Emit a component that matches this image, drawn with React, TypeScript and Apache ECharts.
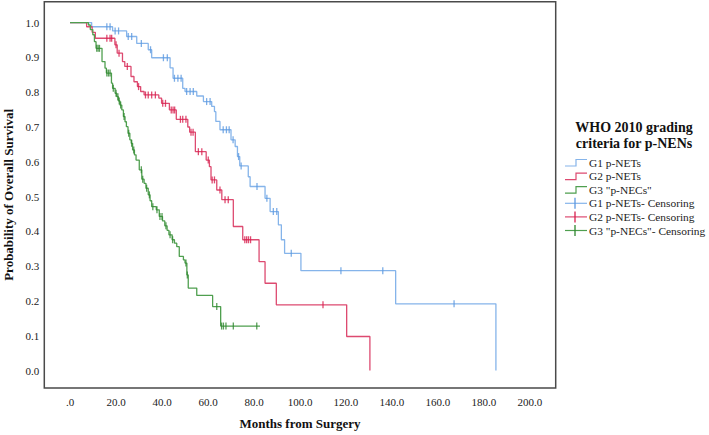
import React, { useEffect, useRef } from "react";
import * as echarts from "echarts";

type Pt = [number, number];

const X_TICKS = [0, 20, 40, 60, 80, 100, 120, 140, 160, 180, 200];
const Y_TICKS = [0, 0.1, 0.2, 0.3, 0.4, 0.5, 0.6, 0.7, 0.8, 0.9, 1.0];

const GROUP_NAMES = ["G1 p-NETs", "G2 p-NETs", 'G3 "p-NECs"'];
const CENSOR_NAMES = ["G1 p-NETs- Censoring", "G2 p-NETs- Censoring", 'G3 "p-NECs"- Censoring'];
const LEGEND_TITLE = ["WHO 2010 grading", "criteria for p-NENs"];

// Kaplan-Meier step points [month, survival]
const G1_STEPS: Pt[] = [
  [0, 1], [9.4, 0.988], [18.5, 0.976], [24.6, 0.96], [29, 0.94], [34, 0.922], [35.5, 0.899],
  [43.5, 0.87], [44.8, 0.84], [49, 0.811], [50, 0.802], [55.1, 0.789], [58, 0.773], [61.6, 0.759],
  [62.8, 0.744], [63.4, 0.716], [65.2, 0.692], [70, 0.663], [71.8, 0.644], [72.8, 0.615],
  [73.8, 0.588], [77.5, 0.557], [78.3, 0.529], [84.8, 0.495], [87, 0.457], [90.6, 0.419],
  [91.9, 0.376], [93.3, 0.337], [100.4, 0.287], [141.6, 0.192], [185.2, 0],
];
const G1_CENSOR: Pt[] = [
  [16, 0.988], [17.4, 0.988], [19.6, 0.976], [21.1, 0.976], [25.3, 0.96], [26.8, 0.96], [31, 0.94],
  [35, 0.922], [40.6, 0.899], [42.3, 0.899], [45.4, 0.84], [46.9, 0.84], [48.3, 0.84], [50.7, 0.802],
  [52.2, 0.802], [53.6, 0.802], [59.4, 0.773], [60.9, 0.773], [66.6, 0.692], [68, 0.692],
  [69.2, 0.692], [70.9, 0.663], [73.3, 0.615], [74.4, 0.588], [81.3, 0.529], [85.6, 0.495],
  [88.4, 0.457], [89.9, 0.457], [96.2, 0.337], [117.8, 0.287], [136, 0.287], [167, 0.192],
];

const G2_STEPS: Pt[] = [
  [0, 1], [7.2, 0.988], [9.6, 0.972], [11, 0.955], [19.5, 0.936], [20.5, 0.912], [22.8, 0.888],
  [23.8, 0.874], [26.5, 0.845], [27.8, 0.83], [29.3, 0.816], [30.7, 0.802], [32.2, 0.792],
  [38.6, 0.783], [39.8, 0.768], [43.2, 0.749], [46.2, 0.722], [51.2, 0.7], [52, 0.685],
  [54.5, 0.629], [59.2, 0.605], [60.6, 0.586], [61.3, 0.548], [63.8, 0.519], [66, 0.491],
  [71, 0.414], [75.1, 0.376], [82.2, 0.313], [84.8, 0.251], [89.7, 0.189], [120.3, 0.098],
  [130.4, 0],
];
const G2_CENSOR: Pt[] = [
  [16, 0.955], [17.4, 0.955], [18.1, 0.955], [20, 0.936], [21.3, 0.912], [24.9, 0.874],
  [29.8, 0.816], [32.8, 0.792], [34, 0.792], [35.5, 0.792], [37.1, 0.792], [40.3, 0.768],
  [41.5, 0.768], [44, 0.749], [44.8, 0.749], [45.5, 0.749], [48, 0.722], [49, 0.722],
  [50.4, 0.722], [52.6, 0.685], [53.5, 0.685], [55.8, 0.629], [57.3, 0.629], [60.1, 0.605],
  [61.8, 0.548], [62.8, 0.548], [65.2, 0.519], [67.4, 0.491], [68.8, 0.491], [76, 0.376],
  [76.8, 0.376], [77.6, 0.376], [78.5, 0.376], [110, 0.189],
];

const G3_STEPS: Pt[] = [
  [0, 1], [8, 0.993], [8.8, 0.98], [9.9, 0.965], [10.6, 0.945], [11.3, 0.926], [13.9, 0.888],
  [15.2, 0.869], [15.8, 0.855], [18, 0.826], [18.5, 0.811], [19.6, 0.797], [20.3, 0.787],
  [21, 0.775], [21.7, 0.763], [22.5, 0.749], [23.2, 0.73], [23.9, 0.715], [24.5, 0.701],
  [25.2, 0.682], [26, 0.663], [26.6, 0.653], [27.2, 0.634], [28, 0.62], [28.7, 0.605],
  [30.1, 0.577], [31.2, 0.55], [32.2, 0.538], [33, 0.524], [34, 0.505], [34.8, 0.488],
  [35.5, 0.471], [37.5, 0.462], [38.8, 0.443], [40.2, 0.43], [41.2, 0.416], [42.2, 0.403],
  [43, 0.39], [44.4, 0.376], [45.4, 0.366], [46.4, 0.356], [47.5, 0.328], [49.3, 0.318],
  [50, 0.309], [50.8, 0.275], [51.4, 0.237], [55.1, 0.216], [62, 0.184], [65.5, 0.128],
  [82.6, 0.128],
];
const G3_CENSOR: Pt[] = [
  [11.6, 0.926], [12.2, 0.926], [12.8, 0.926], [16, 0.855], [16.7, 0.855], [17.4, 0.855],
  [18.8, 0.811], [20, 0.797], [20.8, 0.787], [21.4, 0.775], [22, 0.763], [23.5, 0.73],
  [25.5, 0.682], [26.8, 0.653], [27.7, 0.634], [31, 0.577], [31.6, 0.55], [33.3, 0.524],
  [34.5, 0.505], [36, 0.471], [37.8, 0.462], [39.1, 0.443], [40, 0.443], [41.7, 0.416],
  [43.5, 0.39], [44.6, 0.376], [50.4, 0.309], [51, 0.275], [63.8, 0.184], [65.9, 0.128],
  [66.7, 0.128], [67.8, 0.128], [71, 0.128], [81.2, 0.128],
];

const LINE_COLORS = ["#85b4ea", "#dd4a70", "#4f9f4f"];
const CENSOR_COLORS = ["#5b98e0", "#d81e4d", "#2f872f"];
const SERIF = "'Liberation Serif', 'Times New Roman', serif";

export default function App() {
  const ref = useRef<HTMLDivElement>(null);

  useEffect(() => {
    if (!ref.current) return;
    const chart = echarts.init(ref.current, undefined, { renderer: "svg" });

    const steps = [G1_STEPS, G2_STEPS, G3_STEPS];
    const censors = [G1_CENSOR, G2_CENSOR, G3_CENSOR];

    const series: any[] = [];
    steps.forEach((d, i) => {
      series.push({
        name: GROUP_NAMES[i],
        type: "line",
        step: "end",
        data: d,
        symbol: "none",
        showSymbol: false,
        lineStyle: { color: LINE_COLORS[i], width: 1.3 },
        z: 2 + i,
      });
    });
    censors.forEach((d, i) => {
      series.push({
        name: CENSOR_NAMES[i],
        type: "scatter",
        data: d,
        symbol: "rect",
        symbolSize: [1.3, 7],
        itemStyle: { color: CENSOR_COLORS[i] },
        z: 5 + i,
      });
    });

    const legendX0 = 565;
    const legendX1 = 587;
    const legendY0 = 162.5;
    const legendGap = 13.6;
    const graphics: any[] = [];
    LEGEND_TITLE.forEach((t, i) => {
      graphics.push({
        type: "text",
        x: 634,
        y: 127 + i * 16.5,
        silent: true,
        style: {
          text: t,
          font: `bold 14px ${SERIF}`,
          fill: "#111",
          align: "center",
          verticalAlign: "middle",
        },
      });
    });
    const allNames = [...GROUP_NAMES, ...CENSOR_NAMES];
    allNames.forEach((name, i) => {
      const y = legendY0 + i * legendGap;
      const gi = i % 3;
      if (i < 3) {
        const mid = (legendX0 + legendX1) / 2;
        graphics.push({
          type: "polyline",
          silent: true,
          shape: {
            points: [
              [legendX0, y + 3.5],
              [mid, y + 3.5],
              [mid, y - 3],
              [legendX1, y - 3],
            ],
          },
          style: { stroke: LINE_COLORS[gi], lineWidth: 1.2, fill: "none" },
        });
      } else {
        const mid = (legendX0 + legendX1) / 2 - 1;
        graphics.push({
          type: "line",
          silent: true,
          shape: { x1: legendX0, y1: y, x2: legendX1, y2: y },
          style: { stroke: LINE_COLORS[gi], lineWidth: 1.2 },
        });
        graphics.push({
          type: "line",
          silent: true,
          shape: { x1: mid, y1: y - 5.5, x2: mid, y2: y + 5.5 },
          style: { stroke: CENSOR_COLORS[gi], lineWidth: 1.3 },
        });
      }
      graphics.push({
        type: "text",
        silent: true,
        x: legendX1 + 2,
        y: y,
        style: {
          text: name,
          font: `11.4px ${SERIF}`,
          fill: "#222",
          align: "left",
          verticalAlign: "middle",
        },
      });
    });

    chart.setOption({
      animation: false,
      backgroundColor: "#ffffff",
      grid: {
        left: 44.3,
        top: 1.7,
        right: 153.3,
        bottom: 47,
        containLabel: false,
        outerBoundsMode: "none",
        show: true,
        borderColor: "#4a4a4a",
        borderWidth: 1.5,
        backgroundColor: "transparent",
      },
      xAxis: {
        type: "value",
        min: -11.2,
        max: 211.2,
        axisLine: { show: false },
        axisTick: { show: false },
        splitLine: { show: false },
        axisLabel: {
          customValues: X_TICKS,
          formatter: (v: number) => (v === 0 ? ".0" : v.toFixed(1)),
          fontFamily: SERIF,
          fontSize: 11,
          color: "#222",
          margin: 8,
        },
        name: "Months from Surgery",
        nameLocation: "middle",
        nameGap: 29,
        nameTextStyle: { fontFamily: SERIF, fontSize: 13, fontWeight: "bold", color: "#111" },
      },
      yAxis: {
        type: "value",
        min: -0.05,
        max: 1.06,
        axisLine: { show: false },
        axisTick: { show: false },
        splitLine: { show: false },
        axisLabel: {
          customValues: Y_TICKS,
          formatter: (v: number) => v.toFixed(1),
          fontFamily: SERIF,
          fontSize: 11,
          color: "#222",
          margin: 5,
        },
        name: "Probability of Overall Survival",
        nameLocation: "middle",
        nameGap: 29,
        nameRotate: 90,
        nameTextStyle: { fontFamily: SERIF, fontSize: 13, fontWeight: "bold", color: "#111" },
      },
      series,
      graphic: graphics,
    });

    return () => chart.dispose();
  }, []);

  return (
    <div
      ref={ref}
      style={{ position: "absolute", left: 0, top: 0, width: 709, height: 435, background: "#fff" }}
    />
  );
}
